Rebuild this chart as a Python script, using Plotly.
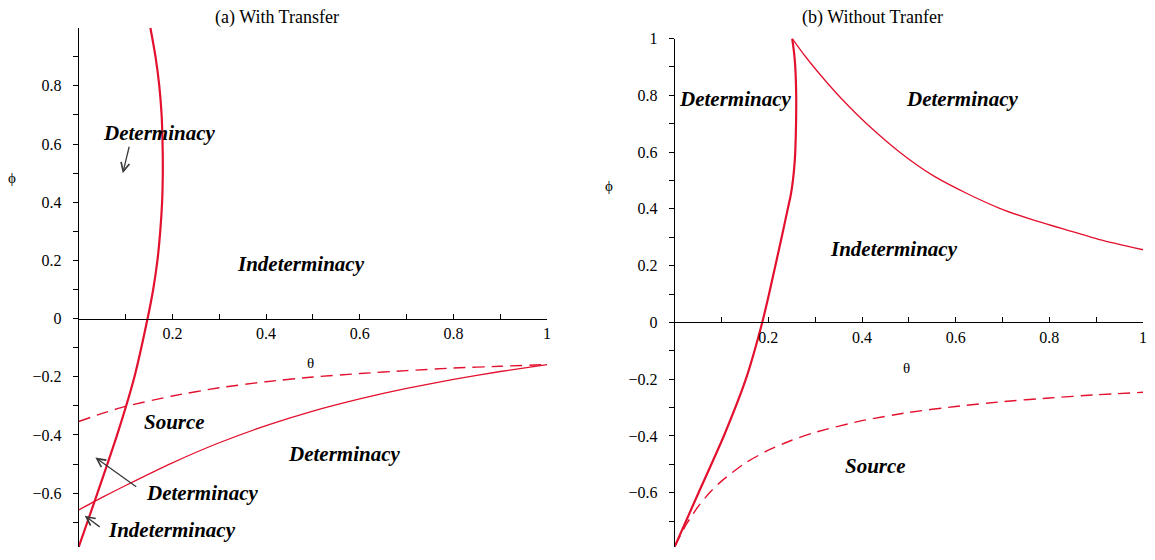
import plotly.graph_objects as go

# ---------------- data ----------------
# (a) With Transfer
a_vert_phi = [-0.785, -0.6, -0.4, -0.2, 0.0, 0.1, 0.2, 0.3, 0.4, 0.5, 0.6, 0.7, 0.8, 0.9, 1.0]
a_vert_theta = [0.0, 0.040, 0.082, 0.119, 0.147, 0.159, 0.168, 0.174, 0.178, 0.1795, 0.179, 0.177, 0.172, 0.164, 0.153]

a_theta = [0.0, 0.05, 0.1, 0.2, 0.3, 0.4, 0.5, 0.6, 0.7, 0.8, 0.9, 1.0]
a_solid_phi = [-0.658, -0.615, -0.574, -0.496, -0.427, -0.368, -0.318, -0.276, -0.240, -0.209, -0.182, -0.158]
a_dash_phi = [-0.354, -0.326, -0.302, -0.266, -0.238, -0.217, -0.201, -0.189, -0.179, -0.170, -0.164, -0.158]

# (b) Without Tranfer
b_vert_phi = [-0.79, -0.6, -0.4, -0.2, 0.0, 0.1, 0.2, 0.3, 0.4, 0.45, 0.5, 0.55, 0.6, 0.7, 0.8, 0.9, 0.95, 1.0]
b_vert_theta = [0.0, 0.051, 0.105, 0.152, 0.187, 0.2015, 0.215, 0.2285, 0.2415, 0.248, 0.2525, 0.2555, 0.2575,
                0.2592, 0.2595, 0.2575, 0.255, 0.251]

b_upper_theta = [0.251, 0.28, 0.32, 0.361, 0.41, 0.482, 0.552, 0.623, 0.694, 0.765, 0.836, 0.907, 1.0]
b_upper_phi = [1.0, 0.935, 0.855, 0.78, 0.70, 0.598, 0.517, 0.455, 0.402, 0.361, 0.326, 0.292, 0.256]

b_dash_theta = [0.0, 0.025, 0.05, 0.075, 0.1, 0.15, 0.2, 0.25, 0.3, 0.4, 0.5, 0.6, 0.7, 0.8, 0.9, 1.0]
b_dash_phi = [-0.79, -0.711, -0.649, -0.599, -0.559, -0.496, -0.45, -0.415, -0.387, -0.346, -0.317, -0.296,
              -0.279, -0.266, -0.255, -0.246]

# tick labels
x_tickvals = [0.1, 0.2, 0.3, 0.4, 0.5, 0.6, 0.7, 0.8, 0.9, 1.0]
x_ticktext = ["", "0.2", "", "0.4", "", "0.6", "", "0.8", "", "1"]
a_y_tickvals = [-0.7, -0.6, -0.5, -0.4, -0.3, -0.2, -0.1, 0.0, 0.1, 0.2, 0.3, 0.4, 0.5, 0.6, 0.7, 0.8, 0.9]
a_y_ticktext = ["", "\u22120.6", "", "\u22120.4", "", "\u22120.2", "", "0", "", "0.2", "", "0.4", "", "0.6", "", "0.8", ""]
b_y_tickvals = a_y_tickvals + [1.0]
b_y_ticktext = a_y_ticktext + ["1"]

titles = ["(a) With Transfer", "(b) Without Tranfer"]

# region labels: (text, theta, phi)
a_labels = [("Determinacy", 0.172, 0.638), ("Indeterminacy", 0.474, 0.186), ("Source", 0.204, -0.354),
            ("Determinacy", 0.566, -0.465), ("Determinacy", 0.264, -0.599), ("Indeterminacy", 0.2, -0.727)]
b_labels = [("Determinacy", 0.128, 0.788), ("Determinacy", 0.613, 0.788),
            ("Indeterminacy", 0.468, 0.257), ("Source", 0.428, -0.507)]
# arrows: (head theta, head phi, tail theta, tail phi)
a_arrows = [(0.094, 0.50, 0.1085, 0.596), (0.0355, -0.478, 0.126, -0.582), (0.0128, -0.678, 0.048, -0.72)]

# ---------------- layout geometry ----------------
W, H = 1155, 560
a_xdom = [79 / W, 549 / W]
b_xdom = [677 / W, 1147 / W]
a_ydom = [1 - 547 / H, 1 - 20 / H]
b_ydom = [1 - 546.5 / H, 1 - 31 / H]
a_yrange = [-0.786, 1.0]
b_yrange = [-0.79, 1.0]


def zero_pos(dom, rng):
    return dom[0] + (0 - rng[0]) / (rng[1] - rng[0]) * (dom[1] - dom[0])


RED = "#e3102e"
SERIF = "Liberation Serif"

fig = go.Figure()
thick = dict(color=RED, width=2.2, shape="spline", smoothing=0.6)
thin = dict(color=RED, width=1.3, shape="spline", smoothing=0.6)
dashed = dict(color=RED, width=1.4, dash="12px,7px", shape="spline", smoothing=0.6)
fig.add_trace(go.Scatter(x=a_vert_theta, y=a_vert_phi, mode="lines", line=thick, xaxis="x", yaxis="y"))
fig.add_trace(go.Scatter(x=a_theta, y=a_solid_phi, mode="lines", line=thin, xaxis="x", yaxis="y"))
fig.add_trace(go.Scatter(x=a_theta, y=a_dash_phi, mode="lines", line=dashed, xaxis="x", yaxis="y"))
fig.add_trace(go.Scatter(x=b_vert_theta, y=b_vert_phi, mode="lines", line=thick, xaxis="x2", yaxis="y2"))
fig.add_trace(go.Scatter(x=b_upper_theta, y=b_upper_phi, mode="lines", line=thin, xaxis="x2", yaxis="y2"))
fig.add_trace(go.Scatter(x=b_dash_theta, y=b_dash_phi, mode="lines", line=dashed, xaxis="x2", yaxis="y2"))

tickfont = dict(family=SERIF, size=16, color="black")
common_x = dict(range=[0, 1], tickmode="array", tickvals=x_tickvals, ticktext=x_ticktext,
                showline=True, linecolor="black", linewidth=1, ticks="inside", ticklen=5,
                tickcolor="black", tickwidth=1, showgrid=False, zeroline=False, tickfont=tickfont,
                anchor="free", ticklabelstandoff=0, fixedrange=True)
common_y = dict(tickmode="array", showline=True, linecolor="black", linewidth=1, ticks="outside",
                ticklen=5, tickcolor="black", tickwidth=1, showgrid=False, zeroline=False,
                tickfont=tickfont, ticklabelstandoff=8, fixedrange=True)

fig.update_layout(
    width=W, height=H, autosize=False, margin=dict(l=0, r=0, t=0, b=0),
    paper_bgcolor="white", plot_bgcolor="white", showlegend=False,
    xaxis=dict(domain=a_xdom, position=zero_pos(a_ydom, a_yrange), **common_x),
    yaxis=dict(domain=a_ydom, range=a_yrange, anchor="x", tickvals=a_y_tickvals, ticktext=a_y_ticktext, **common_y),
    xaxis2=dict(domain=b_xdom, position=zero_pos(b_ydom, b_yrange), **common_x),
    yaxis2=dict(domain=b_ydom, range=b_yrange, anchor="x2", tickvals=b_y_tickvals, ticktext=b_y_ticktext, **common_y),
)

ann = []
labfont = dict(family=SERIF, size=21, color="black")
for t, x, y in a_labels:
    ann.append(dict(text="<b><i>%s</i></b>" % t, x=x, y=y, xref="x", yref="y", showarrow=False,
                    xanchor="center", yanchor="middle", font=labfont))
for t, x, y in b_labels:
    ann.append(dict(text="<b><i>%s</i></b>" % t, x=x, y=y, xref="x2", yref="y2", showarrow=False,
                    xanchor="center", yanchor="middle", font=labfont))
for hx, hy, tx, ty in a_arrows:
    ann.append(dict(text="", x=hx, y=hy, ax=tx, ay=ty, xref="x", yref="y", axref="x", ayref="y",
                    showarrow=True, arrowhead=5, arrowsize=1.3, arrowwidth=1.3, arrowcolor="#3a3a3a"))

titlefont = dict(family=SERIF, size=18, color="black")
ann.append(dict(text=titles[0], x=278 / W, y=1 - 10 / H, xref="paper", yref="paper", showarrow=False,
                xanchor="center", yanchor="middle", font=titlefont))
ann.append(dict(text=titles[1], x=876 / W, y=1 - 10 / H, xref="paper", yref="paper", showarrow=False,
                xanchor="center", yanchor="middle", font=titlefont))

axfont = dict(family=SERIF, size=15, color="black")
for txt, px, py in [("\u03d5", 12, 172), ("\u03b8", 312, 360), ("\u03d5", 611, 181), ("\u03b8", 910, 365)]:
    ann.append(dict(text=txt, x=px / W, y=1 - py / H, xref="paper", yref="paper", showarrow=False,
                    xanchor="center", yanchor="middle", font=axfont))

fig.update_layout(annotations=ann)
fig.write_html("out.html")
